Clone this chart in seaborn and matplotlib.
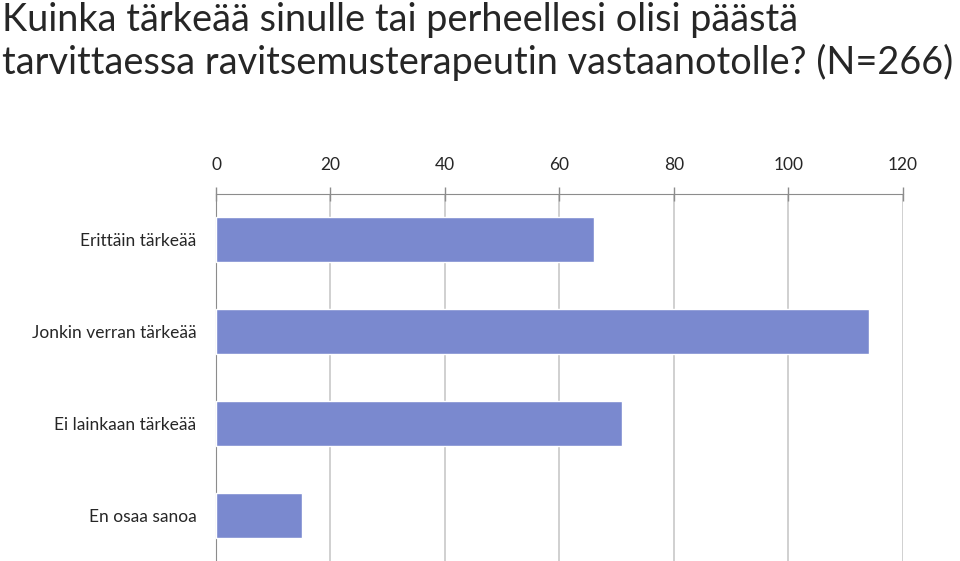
import pandas as pd
import matplotlib
matplotlib.use("Agg")
import matplotlib.pyplot as plt
import seaborn as sns

# answers and counts (N=266)
categories = ["Erittäin tärkeää", "Jonkin verran tärkeää", "Ei lainkaan tärkeää", "En osaa sanoa"]
counts = [66, 114, 71, 15]
x_ticks = [0, 20, 40, 60, 80, 100, 120]
title = "Kuinka tärkeää sinulle tai perheellesi olisi päästä\ntarvittaessa ravitsemusterapeutin vastaanotolle? (N=266)"

df = pd.DataFrame({"vastaus": categories, "lkm": counts})

sns.set_style("white")
plt.rcParams["font.family"] = ["Lato", "DejaVu Sans"]

fig = plt.figure(figsize=(9.6, 5.61), dpi=100)
ax = fig.add_axes([0.225, 0.0, 0.7156, 0.6542])

sns.barplot(data=df, x="lkm", y="vastaus", color="#7a89cf", saturation=1,
            width=0.49, ax=ax, zorder=3)

ax.set_xlim(0, 120)
ax.set_ylim(3.5, -0.5)
ax.set_xticks(x_ticks)
ax.xaxis.tick_top()
ax.xaxis.set_label_position("top")
ax.set_xlabel("")
ax.set_ylabel("")
ax.grid(axis="x", color="#c8c8c8", linewidth=1.2, zorder=0)
ax.tick_params(axis="x", which="both", direction="inout", length=10, width=1,
               color="#8c8c8c", labelsize=12.5, pad=10)
ax.tick_params(axis="y", length=0, labelsize=12.5, pad=14)
for s in ["right", "bottom"]:
    ax.spines[s].set_visible(False)
ax.spines["top"].set_color("#8c8c8c")
ax.spines["left"].set_color("#8c8c8c")

fig.text(0.002, 0.997, title, ha="left", va="top", fontsize=27.3,
         linespacing=1.2)

fig.savefig("out.png", dpi=100)
